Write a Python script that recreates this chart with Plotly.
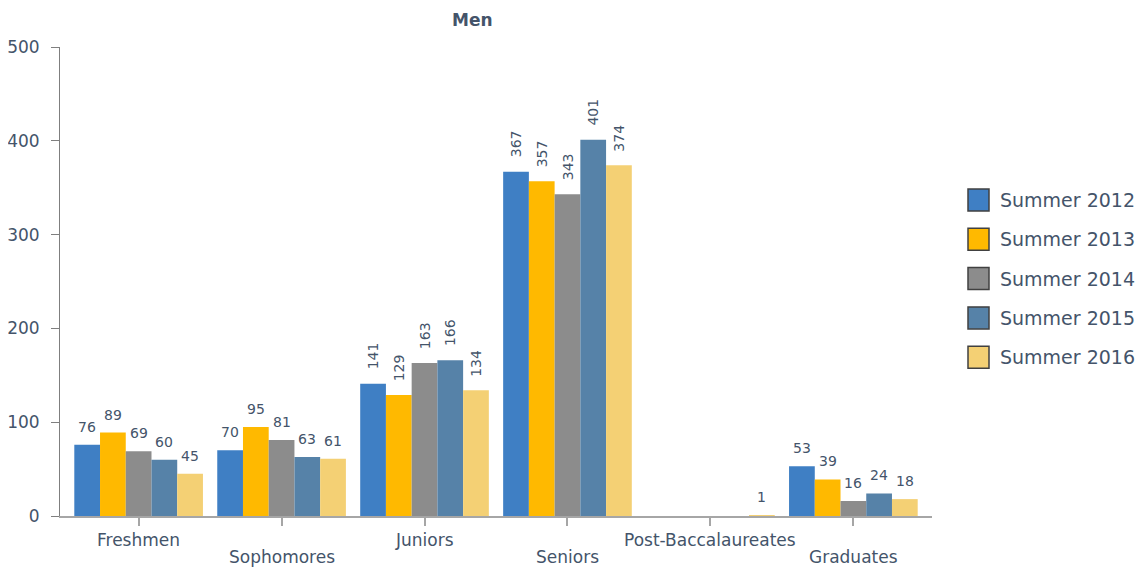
import plotly.graph_objects as go

categories = ["Freshmen", "Sophomores", "Juniors", "Seniors", "Post-Baccalaureates", "Graduates"]
series_names = ["Summer 2012", "Summer 2013", "Summer 2014", "Summer 2015", "Summer 2016"]
summer_2012 = [76, 70, 141, 367, 0, 53]
summer_2013 = [89, 95, 129, 357, 0, 39]
summer_2014 = [69, 81, 163, 343, 0, 16]
summer_2015 = [60, 63, 166, 401, 0, 24]
summer_2016 = [45, 61, 134, 374, 1, 18]
y_ticks = [0, 100, 200, 300, 400, 500]

colors = ["#3f7fc4", "#ffb900", "#8c8c8c", "#5682a8", "#f4d074"]
TEXT = "#44546a"
FONT = "DejaVu Sans"

all_series = [summer_2012, summer_2013, summer_2014, summer_2015, summer_2016]
n = len(all_series)
bargap = 0.1
bar_w = (1 - bargap) / n

# page has an 8px body margin, so the figure is laid out 8px in from the window
FIG_W, FIG_H = 1138, 564
L, R, T, B = 52, 924, 39, 508
W, H = R - L, B - T

fig = go.Figure()
annotations = []
for s, (name, vals) in enumerate(zip(series_names, all_series)):
    fig.add_trace(go.Bar(
        name=name,
        x=list(range(len(categories))),
        y=vals,
        marker_color=colors[s],
        marker_line_width=0,
        showlegend=False,
    ))
    for i, v in enumerate(vals):
        if v <= 0:
            continue
        big = v >= 100
        annotations.append(dict(
            x=i + (s - (n - 1) / 2) * bar_w,
            y=v,
            xref="x", yref="y",
            text=str(v),
            showarrow=False,
            textangle=-90 if big else 0,
            yanchor="bottom",
            xanchor="center",
            yshift=12 if big else 8,
            font=dict(family=FONT, size=14, color=TEXT),
        ))

# category labels, staggered on two rows
for i, c in enumerate(categories):
    annotations.append(dict(
        x=i, y=0, xref="x", yref="paper",
        text=c, showarrow=False, xanchor="center", yanchor="middle",
        yshift=-24 if i % 2 == 0 else -41,
        font=dict(family=FONT, size=17, color=TEXT),
    ))

# legend drawn by hand to get the large swatches
shapes = []
for s, name in enumerate(series_names):
    y_px = 192 + s * 39.3
    shapes.append(dict(
        type="rect", xref="paper", yref="paper",
        x0=(960 - L) / W, x1=(981 - L) / W,
        y0=(B - (y_px + 11)) / H, y1=(B - (y_px - 11)) / H,
        fillcolor=colors[s], line=dict(color="#404040", width=1.5),
    ))
    annotations.append(dict(
        xref="paper", yref="paper",
        x=(990 - L) / W, y=(B - y_px) / H,
        text=name, showarrow=False, xanchor="left", yanchor="middle",
        font=dict(family=FONT, size=19, color=TEXT),
    ))

# chart title
annotations.append(dict(
    xref="paper", yref="paper",
    x=(464 - L) / W, y=(B - 0) / H,
    text="<b>Men</b>", showarrow=False, xanchor="center", yanchor="top",
    font=dict(family=FONT, size=17, color=TEXT),
))

fig.update_layout(
    barmode="group",
    bargap=bargap,
    bargroupgap=0,
    width=FIG_W,
    height=FIG_H,
    margin=dict(l=L, r=FIG_W - R, t=T, b=FIG_H - B, autoexpand=False),
    paper_bgcolor="white",
    plot_bgcolor="white",
    font=dict(family=FONT, color=TEXT),
    xaxis=dict(
        range=[-0.55, len(categories) - 0.45],
        tickmode="array",
        tickvals=list(range(len(categories))),
        showticklabels=False,
        showline=True, linecolor="#a6a6a6", linewidth=2,
        ticks="outside", ticklen=8, tickcolor="#a6a6a6", tickwidth=2,
        showgrid=False, zeroline=False, automargin=False,
    ),
    yaxis=dict(
        range=[0, 500],
        tickvals=y_ticks,
        showline=True, linecolor="#7f7f7f", linewidth=1,
        ticks="outside", ticklen=8, tickcolor="#7f7f7f",
        ticklabelstandoff=8,
        tickfont=dict(family=FONT, size=17, color=TEXT),
        showgrid=False, zeroline=False, automargin=False,
    ),
    annotations=annotations,
    shapes=shapes,
)

fig.write_html("out.html")
